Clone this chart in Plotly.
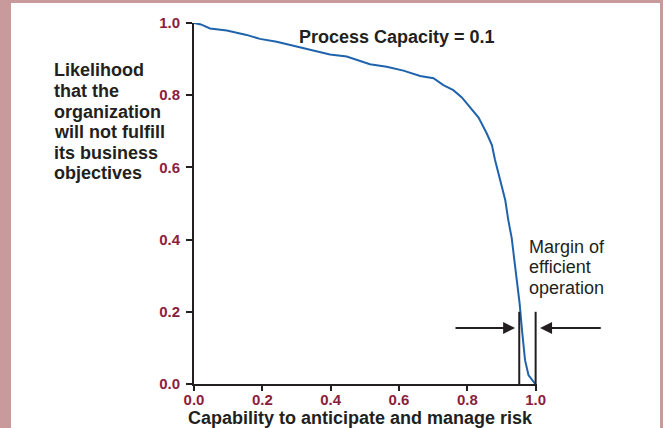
import plotly.graph_objects as go

# ---- data ----
capability = [0.0, 0.020, 0.047, 0.096, 0.154, 0.193, 0.242, 0.291, 0.340, 0.398, 0.447,
              0.486, 0.515, 0.564, 0.613, 0.662, 0.701, 0.730, 0.759, 0.784, 0.808,
              0.833, 0.857, 0.872, 0.881, 0.896, 0.911, 0.920, 0.930, 0.940, 0.953,
              0.960, 0.969, 0.979, 0.994, 0.999]
likelihood = [1.0, 0.996, 0.985, 0.979, 0.967, 0.956, 0.948, 0.937, 0.928, 0.913, 0.907,
              0.895, 0.886, 0.879, 0.868, 0.853, 0.847, 0.828, 0.814, 0.794, 0.768,
              0.738, 0.694, 0.662, 0.621, 0.565, 0.510, 0.454, 0.404, 0.325, 0.224,
              0.150, 0.066, 0.025, 0.006, 0.0]

x_ticks = [0.0, 0.2, 0.4, 0.6, 0.8, 1.0]
y_ticks = [0.0, 0.2, 0.4, 0.6, 0.8, 1.0]
x_tick_labels = ["0.0", "0.2", "0.4", "0.6", "0.8", "1.0"]
y_tick_labels = ["0.0", "0.2", "0.4", "0.6", "0.8", "1.0"]

margin_bounds = [0.952, 1.0]          # vertical lines bounding the margin
margin_top = 0.2
arrow_y = 0.155
left_arrow = [0.761, 0.940]           # tail, head
right_arrow = [1.195, 1.013]          # tail, head

title_text = "Process Capacity = 0.1"
x_title = "Capability to anticipate and manage risk"
y_title_lines = ["Likelihood", "that the", "organization", "will not fulfill",
                 "its business", "objectives"]
margin_lines = ["Margin of", "efficient", "operation"]

# ---- styling / layout ----
W, H = 663, 428
L, R, T, B = 194, 126, 23, 44
PW, PH = W - L - R, H - T - B
XMAX = 1.004
FONT = "Liberation Sans, Arial, sans-serif"
DARK = "#231F20"
MAROON = "#8C1D40"
BLUE = "#1F63AC"
PINK = "#C99A9C"


def px_to_paper_x(px):
    return (px - L) / PW


def px_to_paper_y(py):
    return (H - B - py) / PH


fig = go.Figure()
fig.add_trace(go.Scatter(x=capability, y=likelihood, mode="lines",
                         line=dict(color=BLUE, width=2), cliponaxis=False,
                         hoverinfo="skip", showlegend=False))

shapes = []
# pink frame strips
for (x0, x1, y0, y1) in [(0, 11, 0, H), (660, W, 0, H), (0, W, 0, 3)]:
    shapes.append(dict(type="rect", xref="paper", yref="paper",
                       x0=px_to_paper_x(x0), x1=px_to_paper_x(x1),
                       y0=px_to_paper_y(y1), y1=px_to_paper_y(y0),
                       fillcolor=PINK, line=dict(width=0), layer="below"))
# margin boundary lines
for xb in margin_bounds:
    shapes.append(dict(type="line", xref="x", yref="y", x0=xb, x1=xb,
                       y0=0, y1=margin_top, line=dict(color=DARK, width=2)))

annotations = []
# arrows
annotations.append(dict(xref="paper", yref="y", x=left_arrow[1] / XMAX, y=arrow_y,
                        axref="pixel", ayref="pixel",
                        ax=(left_arrow[0] - left_arrow[1]) / XMAX * PW, ay=0,
                        text="", showarrow=True, arrowhead=2, arrowsize=1.2,
                        arrowwidth=2, arrowcolor=DARK))
annotations.append(dict(xref="paper", yref="y", x=right_arrow[1] / XMAX, y=arrow_y,
                        axref="pixel", ayref="pixel",
                        ax=(right_arrow[0] - right_arrow[1]) / XMAX * PW, ay=0,
                        text="", showarrow=True, arrowhead=2, arrowsize=1.2,
                        arrowwidth=2, arrowcolor=DARK))
# title
annotations.append(dict(xref="paper", yref="paper", x=px_to_paper_x(297),
                        y=px_to_paper_y(37.5), xanchor="left", yanchor="middle",
                        text=title_text, showarrow=False,
                        font=dict(family=FONT, size=18, color=DARK, weight="bold")))
# x title
annotations.append(dict(xref="paper", yref="paper", x=px_to_paper_x(360),
                        y=px_to_paper_y(418), xanchor="center", yanchor="middle",
                        text=x_title, showarrow=False,
                        font=dict(family=FONT, size=18, color=DARK, weight="bold")))
# y title lines
for i, line in enumerate(y_title_lines):
    annotations.append(dict(xref="paper", yref="paper", x=px_to_paper_x(52),
                            y=px_to_paper_y(70.5 + 20.5 * i), xanchor="left",
                            yanchor="middle", text=line, showarrow=False,
                            font=dict(family=FONT, size=18, color=DARK, weight="bold")))
# margin text
for i, line in enumerate(margin_lines):
    annotations.append(dict(xref="paper", yref="paper", x=px_to_paper_x(527),
                            y=px_to_paper_y(246.5 + 20.7 * i), xanchor="left",
                            yanchor="middle", text=line, showarrow=False,
                            font=dict(family=FONT, size=18, color=DARK)))

fig.update_layout(
    width=W, height=H,
    margin=dict(l=L, r=R, t=T, b=B, pad=0),
    paper_bgcolor="white", plot_bgcolor="white",
    shapes=shapes, annotations=annotations,
    showlegend=False,
    xaxis=dict(range=[0, XMAX], tickvals=x_ticks, ticktext=x_tick_labels,
               showgrid=False, zeroline=False, showline=True, linecolor=DARK,
               linewidth=2, ticks="outside", ticklen=5, tickwidth=2, tickcolor=DARK,
               ticklabelstandoff=-4,
               tickfont=dict(family=FONT, size=15, color=MAROON, weight="bold"),
               fixedrange=True),
    yaxis=dict(range=[0, 1], tickvals=y_ticks, ticktext=y_tick_labels,
               showgrid=False, zeroline=False, showline=True, linecolor=DARK,
               linewidth=2, ticks="outside", ticklen=6, tickwidth=2, tickcolor=DARK,
               ticklabelstandoff=3,
               tickfont=dict(family=FONT, size=15, color=MAROON, weight="bold"),
               fixedrange=True),
)

fig.write_html("out.html", config={"displayModeBar": False},
               post_script="document.body.style.margin='0';")
